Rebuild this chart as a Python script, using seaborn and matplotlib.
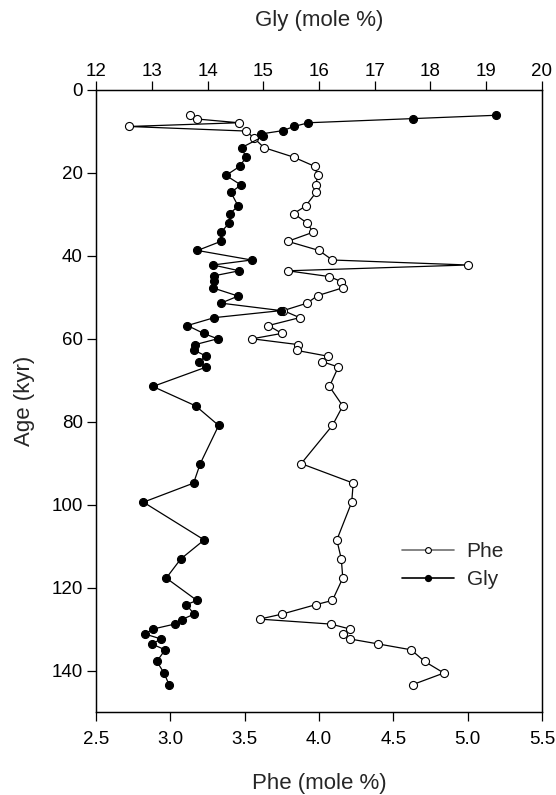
import matplotlib
matplotlib.use("Agg")
import matplotlib.pyplot as plt
import seaborn as sns
import pandas as pd
from matplotlib.lines import Line2D

sns.set_theme(style="ticks")
plt.rcParams['font.family'] = ['Liberation Sans', 'DejaVu Sans']

phe_age = [6.0, 7.0, 7.9, 8.8, 9.9, 11.5, 13.9, 16.2, 18.4, 20.6, 22.9, 24.7, 28.0, 29.8,
           32.1, 34.3, 36.5, 38.7, 41.0, 42.2, 43.6, 45.0, 46.2, 47.7, 49.6, 51.4, 53.2,
           54.9, 56.8, 58.7, 60.0, 61.4, 62.8, 64.2, 65.5, 66.8, 71.5, 76.2, 80.9, 90.1,
           94.8, 99.4, 108.5, 113.1, 117.7, 123.1, 124.1, 126.4, 127.6, 128.8, 130.0,
           131.2, 132.4, 133.6, 135.0, 137.8, 140.6, 143.4]
phe = [3.13, 3.18, 3.46, 2.72, 3.51, 3.56, 3.63, 3.83, 3.97, 3.99, 3.98, 3.98, 3.91, 3.83,
       3.92, 3.96, 3.79, 4.00, 4.09, 5.00, 3.79, 4.07, 4.15, 4.16, 3.99, 3.92, 3.76,
       3.87, 3.66, 3.75, 3.55, 3.86, 3.85, 4.06, 4.02, 4.13, 4.07, 4.16, 4.09, 3.88,
       4.23, 4.22, 4.12, 4.15, 4.16, 4.09, 3.98, 3.75, 3.60, 4.08, 4.21,
       4.16, 4.21, 4.40, 4.62, 4.71, 4.84, 4.63]

gly_age = [6.1, 6.9, 7.9, 8.8, 9.8, 10.6, 11.2, 13.9, 16.2, 18.4, 20.6, 22.9, 24.7, 28.0,
           29.8, 32.1, 34.3, 36.5, 38.7, 41.0, 42.2, 43.6, 44.8, 46.0, 47.7, 49.7, 51.4,
           53.2, 54.9, 56.8, 58.7, 60.0, 61.4, 62.7, 64.2, 65.5, 66.8, 71.5, 76.2, 80.9,
           90.1, 94.8, 99.4, 108.5, 113.1, 117.7, 123.1, 124.1, 126.4, 127.7, 128.8,
           130.0, 131.2, 132.4, 133.6, 135.0, 137.8, 140.6, 143.4]
gly = [19.17, 17.68, 15.81, 15.55, 15.35, 14.96, 15.00, 14.61, 14.69, 14.58, 14.33, 14.60,
       14.42, 14.55, 14.40, 14.39, 14.24, 14.24, 13.82, 14.79, 14.10, 14.57, 14.12, 14.12,
       14.09, 14.55, 14.24, 15.32, 14.12, 13.64, 13.93, 14.18, 13.78, 13.75, 13.98, 13.84,
       13.98, 13.02, 13.79, 14.20, 13.87, 13.75, 12.85, 13.94, 13.52, 13.26, 13.81, 13.62,
       13.76, 13.54, 13.41, 13.02, 12.88, 13.17, 13.00, 13.24, 13.09, 13.22, 13.31]

phe_ticks = [2.5, 3.0, 3.5, 4.0, 4.5, 5.0, 5.5]
gly_ticks = [12, 13, 14, 15, 16, 17, 18, 19, 20]
age_ticks = [0, 20, 40, 60, 80, 100, 120, 140]

df_phe = pd.DataFrame({"Phe": phe, "Age": phe_age})
df_gly = pd.DataFrame({"Gly": gly, "Age": gly_age})

fig = plt.figure(figsize=(5.56, 7.95), dpi=100)
ax = fig.add_axes([0.1727, 0.1044, 0.8021, 0.7824])
ax2 = ax.twiny()

ms = 5.8
sns.lineplot(data=df_gly, x="Gly", y="Age", sort=False, estimator=None, orient="y",
             ax=ax2, color="black",
             marker="o", markersize=ms, markerfacecolor="black", markeredgecolor="black",
             linewidth=0.9, zorder=3)
sns.lineplot(data=df_phe, x="Phe", y="Age", sort=False, estimator=None, orient="y",
             ax=ax, color="black",
             marker="o", markersize=ms, markerfacecolor="white", markeredgecolor="black",
             markeredgewidth=0.8, linewidth=0.9, zorder=3)

ax.set_xlim(2.5, 5.5)
ax2.set_xlim(12, 20)
ax.set_ylim(150, 0)
ax.set_xticks(phe_ticks)
ax.set_xticklabels([f"{t:.1f}" for t in phe_ticks])
ax2.set_xticks(gly_ticks)
ax.set_yticks(age_ticks)

for a in (ax, ax2):
    for s in a.spines.values():
        s.set_linewidth(0.9)
        s.set_color("black")
    a.tick_params(direction="out", length=6.5, width=0.9, colors="black", labelsize=13.5)
ax.tick_params(axis="x", pad=7)
ax.tick_params(axis="y", pad=3)
ax2.tick_params(axis="x", pad=1)

ax.set_xlabel("Phe (mole %)", fontsize=16, labelpad=18)
ax.set_ylabel("Age (kyr)", fontsize=16, labelpad=12)
ax2.set_xlabel("Gly (mole %)", fontsize=16, labelpad=26)

handles = [Line2D([], [], color="#707070", linewidth=1.2, marker="o", markersize=4.2,
                  markerfacecolor="white", markeredgecolor="black", markeredgewidth=0.8),
           Line2D([], [], color="black", linewidth=1.2, marker="o", markersize=4.2,
                  markerfacecolor="black", markeredgecolor="black")]
ax.legend(handles, ["Phe", "Gly"], loc="center left", bbox_to_anchor=(0.686, 0.2355),
          frameon=False, fontsize=15, handlelength=2.5, handletextpad=0.6,
          labelspacing=0.45, borderpad=0, borderaxespad=0)

fig.savefig("out.png", dpi=100)
